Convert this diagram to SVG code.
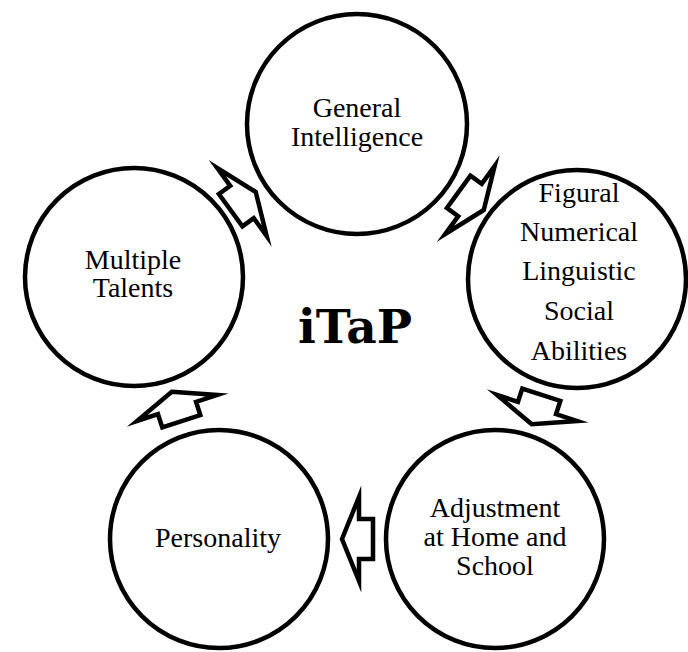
<svg xmlns="http://www.w3.org/2000/svg" width="688" height="652" viewBox="0 0 688 652">
  <defs>
    <style>
      .node { fill: #ffffff; stroke: #000000; stroke-width: 4.5; }
      .lbl { font-family: "Liberation Serif", "DejaVu Serif", serif; font-size: 28px; fill: #000000; text-anchor: middle; }
      .title { font-family: "DejaVu Serif", "Liberation Serif", serif; font-size: 47px; font-weight: bold; fill: #000000; text-anchor: middle; }
      .arrow { fill: #ffffff; stroke: #000000; stroke-width: 4.5; stroke-linejoin: miter; stroke-miterlimit: 12; }
    </style>
    <polygon id="arrowShape" class="arrow" points="17,0 0,42 0,20 -14,20 -14,-20 0,-20 0,-42"/>
  </defs>
  <rect x="0" y="0" width="688" height="652" fill="#ffffff"/>

  <g id="connectors">
    <use href="#arrowShape" transform="translate(242,202) rotate(-36)"/>
    <use href="#arrowShape" transform="translate(470,200) rotate(36)"/>
    <use href="#arrowShape" transform="translate(537,408) rotate(108)"/>
    <use href="#arrowShape" transform="translate(359,539) rotate(180)"/>
    <use href="#arrowShape" transform="translate(177,408) rotate(252)"/>
  </g>

  <g id="node-general-intelligence">
    <circle class="node" cx="357" cy="124" r="110"/>
    <text class="lbl" x="357" y="117">General</text>
    <text class="lbl" x="357" y="146">Intelligence</text>
  </g>

  <g id="node-abilities">
    <circle class="node" cx="577" cy="279" r="109"/>
    <text class="lbl" x="579" y="202">Figural</text>
    <text class="lbl" x="579" y="241">Numerical</text>
    <text class="lbl" x="579" y="280">Linguistic</text>
    <text class="lbl" x="579" y="320">Social</text>
    <text class="lbl" x="579" y="360">Abilities</text>
  </g>

  <g id="node-adjustment">
    <circle class="node" cx="495" cy="539" r="109"/>
    <text class="lbl" x="495" y="517">Adjustment</text>
    <text class="lbl" x="495" y="546">at Home and</text>
    <text class="lbl" x="495" y="575">School</text>
  </g>

  <g id="node-personality">
    <circle class="node" cx="219" cy="539" r="109"/>
    <text class="lbl" x="218" y="547">Personality</text>
  </g>

  <g id="node-multiple-talents">
    <circle class="node" cx="134" cy="277" r="109"/>
    <text class="lbl" x="133" y="269">Multiple</text>
    <text class="lbl" x="133" y="297">Talents</text>
  </g>

  <g id="center-label">
    <text class="title" x="355" y="343">iTaP</text>
  </g>
</svg>
